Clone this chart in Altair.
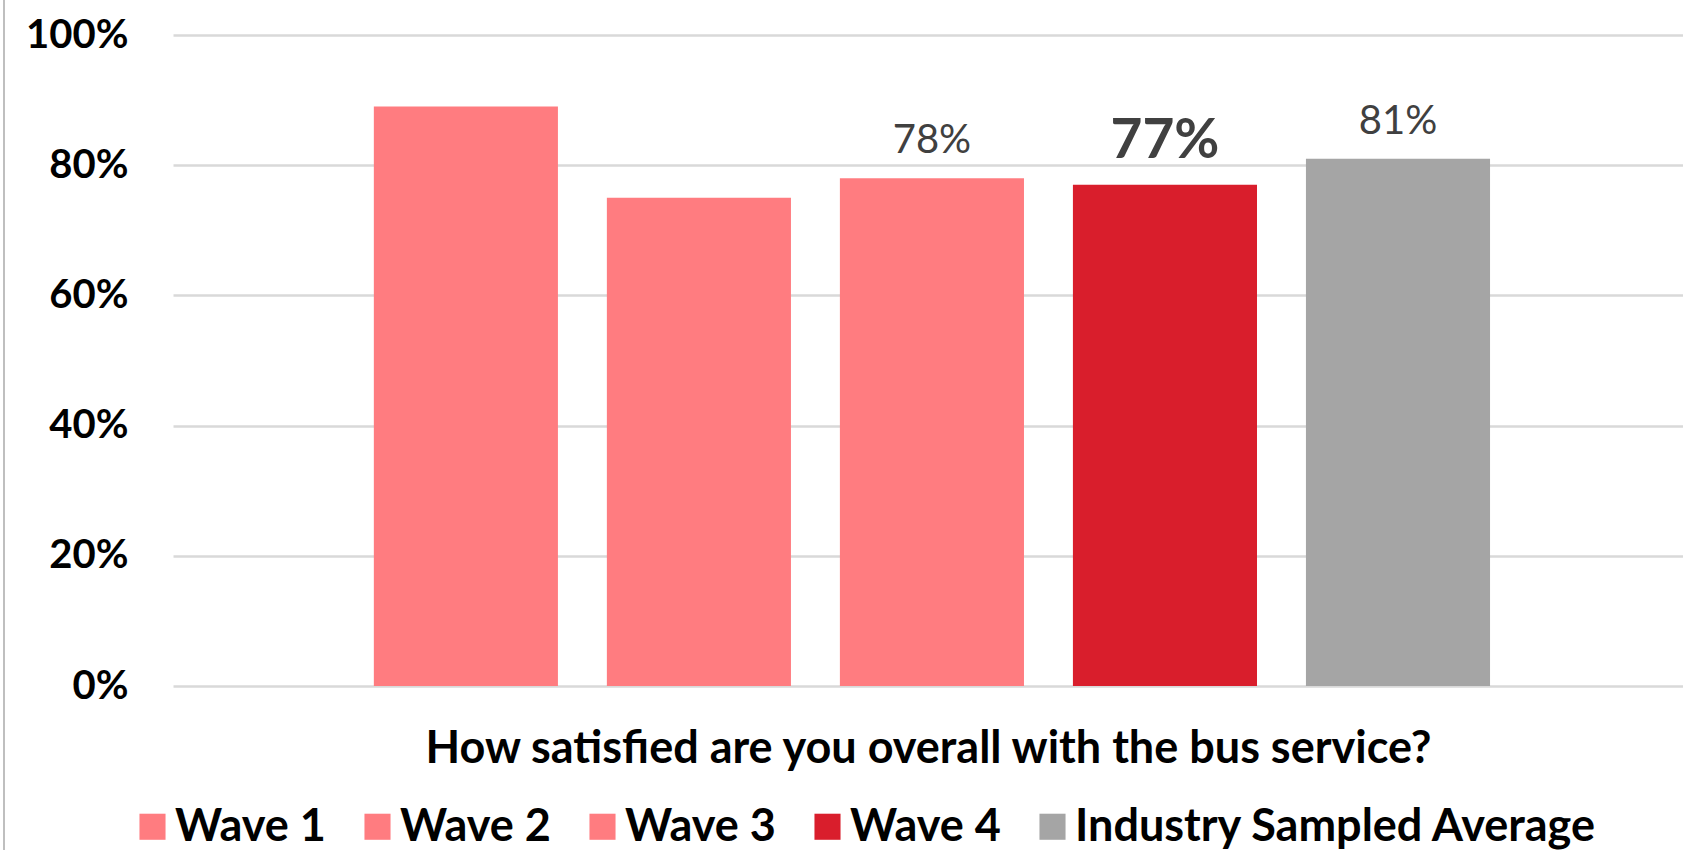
import altair as alt
import pandas as pd

series = ["Wave 1", "Wave 2", "Wave 3", "Wave 4", "Industry Sampled Average"]
values = [0.89, 0.75, 0.78, 0.77, 0.81]
colors = ["#FF7C80", "#FF7C80", "#FF7C80", "#D91E2C", "#A5A5A5"]
show_label = [False, False, True, True, True]
emphasis = [False, False, False, True, False]
question = "How satisfied are you overall with the bus service?"
y_ticks = [0, 0.2, 0.4, 0.6, 0.8, 1.0]

df = pd.DataFrame({
    "series": series,
    "value": values,
    "show": show_label,
    "emph": emphasis,
})

FONT = "Lato"

x_axis = alt.Axis(
    labels=False, ticks=False, domain=False, grid=False,
    title=question, titleFont=FONT, titleFontSize=45, titleFontWeight="bold",
    titleColor="#000000", titleBaseline="alphabetic", titlePadding=76,
)
x_scale = alt.Scale(paddingInner=0.21, paddingOuter=0.845, align=0.51)

y_axis = alt.Axis(
    values=y_ticks, format=".0%", title="", domain=False, ticks=False,
    labelFont=FONT, labelFontSize=40, labelFontWeight="bold",
    labelColor="#000000", labelPadding=45,
    gridColor="#D9D9D9", gridWidth=2.5,
)
y_scale = alt.Scale(domain=[0, 1])


def xy():
    return dict(
        x=alt.X("series:N", sort=series, scale=x_scale, axis=x_axis),
        y=alt.Y("value:Q", scale=y_scale, axis=y_axis),
    )


bars = alt.Chart(df).mark_bar(strokeWidth=0).encode(
    **xy(),
    color=alt.Color(
        "series:N",
        sort=series,
        scale=alt.Scale(domain=series, range=colors),
        legend=alt.Legend(
            title=None, orient="none", direction="horizontal",
            legendX=-43, legendY=769,
            symbolType="square", symbolSize=680, symbolStrokeWidth=0,
            labelFont=FONT, labelFontSize=45, labelFontWeight="bold",
            labelColor="#000000", labelLimit=2000, labelOffset=0,
            columnPadding=29,
        ),
    ),
)

labels_normal = alt.Chart(df).transform_filter(
    "datum.show && !datum.emph"
).mark_text(
    font=FONT, fontSize=40, color="#404040", baseline="alphabetic", dy=-25
).encode(
    **xy(),
    text=alt.Text("value:Q", format=".0%"),
)

labels_bold = alt.Chart(df).transform_filter(
    "datum.emph"
).mark_text(
    font=FONT, fontSize=55, fontWeight="bold", color="#404040",
    baseline="alphabetic", dy=-27
).encode(
    **xy(),
    text=alt.Text("value:Q", format=".0%"),
)

border = alt.Chart(df).mark_rule(color="#BFBFBF", strokeWidth=2).encode(
    x=alt.value(-169), y=alt.value(-35), y2=alt.value(815)
)

chart = alt.layer(bars, labels_normal, labels_bold, border).properties(
    width=1510,
    height=651,
    autosize=alt.AutoSizeParams(type="none"),
    padding={"left": 173, "top": 35, "right": 0, "bottom": 164},
).configure(
    background="#FFFFFF",
).configure_view(
    strokeWidth=0, stroke="transparent",
)

chart.save("out.html", embed_options={"renderer": "svg", "actions": False})
